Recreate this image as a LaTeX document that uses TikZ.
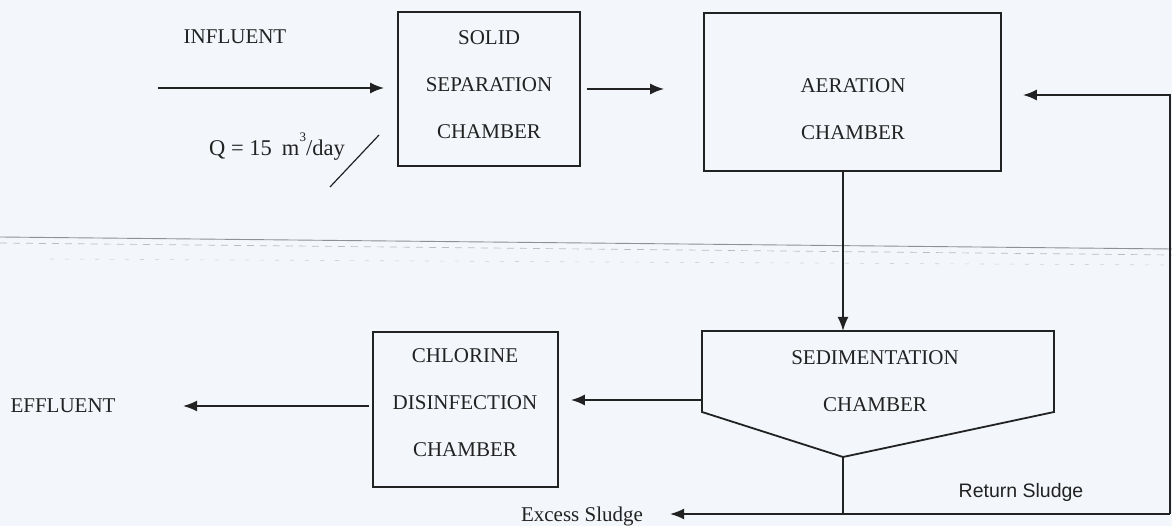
\documentclass[tikz,border=0pt]{standalone}
\usepackage{fontspec}
\setmainfont{Liberation Serif}
\newfontfamily\sansf{Liberation Sans}
\usetikzlibrary{arrows.meta}
\definecolor{bg}{RGB}{243,246,251}
\definecolor{ink}{RGB}{34,34,34}
\definecolor{scan}{RGB}{140,145,150}
\tikzset{
  boxline/.style={draw=ink, line width=1.8pt},
  chamber/.style={boxline, inner sep=0pt},
  ctext/.style={align=center, text=ink, inner sep=0pt, font=\fontsize{21}{47}\selectfont},
  lbl/.style={text=ink, inner sep=0pt, font=\fontsize{21}{25}\selectfont},
  flow/.style={draw=ink, line width=1.8pt, -{Latex[length=14pt,width=11pt]}},
  pipe/.style={draw=ink, line width=1.8pt}
}
\begin{document}
\begin{tikzpicture}[x=1pt,y=-1pt]
\fill[bg] (0,0) rectangle (1172,526);
\useasboundingbox (0,0) rectangle (1172,526);
% scan fold line
\draw[scan, line width=0.9pt] (0,237) -- (1172,249);
\draw[scan!60, line width=0.7pt, dash pattern=on 7pt off 6pt] (0,243) -- (1172,255);
\draw[scan!40, line width=0.6pt, dash pattern=on 4pt off 11pt] (50,259) -- (1172,265);

% chambers
\node[chamber, minimum width=182pt, minimum height=154pt] (solid) at (489,89) {};
\node[ctext] (solidtxt) at (489,85) {SOLID\\SEPARATION\\CHAMBER};

\node[chamber, minimum width=297pt, minimum height=158pt] (aer) at (852.5,92) {};
\node[ctext] (aertxt) at (853,109) {AERATION\\CHAMBER};

\node[chamber, minimum width=185pt, minimum height=155pt] (chl) at (465.5,409.5) {};
\node[ctext] (chltxt) at (465,403) {CHLORINE\\DISINFECTION\\CHAMBER};

\coordinate (sTL) at (702,331);
\coordinate (sTR) at (1054,331);
\coordinate (sR) at (1054,412);
\coordinate (sB) at (843,457);
\coordinate (sL) at (702,412);
\draw[boxline, line join=miter] (sTL) -- (sTR) -- (sR) -- (sB) -- (sL) -- cycle;
\node[ctext] (sedtxt) at (875,381.5) {SEDIMENTATION\\CHAMBER};

% labels
\node[lbl] (influent) at (235,37) {INFLUENT};
\node[lbl] (effluent) at (63,406) {EFFLUENT};
\node[lbl, anchor=base west, font=\fontsize{22.5}{26}\selectfont] (qlbl) at (209,156) {Q = 15\hspace{0.45em}m\raisebox{14pt}{\fontsize{13}{13}\selectfont 3}/day};
\node[lbl, anchor=base] (excess) at (582,521) {Excess Sludge};
\node[lbl, anchor=base, font=\sansf\fontsize{19.5}{24}\selectfont] (ret) at (1021,497) {Return Sludge};

% coordinates
\coordinate (inStart) at (158,88);
\coordinate (qa) at (330,187);
\coordinate (qb) at (379,135);
\coordinate (sTop) at (843,331);
\coordinate (sOut) at (702,400);
\coordinate (effTip) at (183,406);
\coordinate (sj) at (843,514);
\coordinate (rc) at (1170,514);
\coordinate (rt) at (1170,95);
\coordinate (exTip) at (670,514);

% connectors
\draw[flow, shorten >=13pt] (inStart) -- (inStart -| solid.west);
\draw[line width=1.2pt, ink] (qa) -- (qb);
\draw[flow, shorten <=6pt, shorten >=39pt] (solid.east) -- (solid.east -| aer.west);
\draw[flow] (aer.south -| sTop) -- (sTop);
\draw[flow, shorten >=12pt] (sOut) -- (sOut -| chl.east);
\draw[flow, shorten <=3pt] (effTip -| chl.west) -- (effTip);
\draw[pipe] (sB) -- (sj);
\draw[flow] (rc) -- (exTip);
\draw[flow, shorten >=21pt] (rc) -- (rt) -- (rt -| aer.east);
\end{tikzpicture}
\end{document}
